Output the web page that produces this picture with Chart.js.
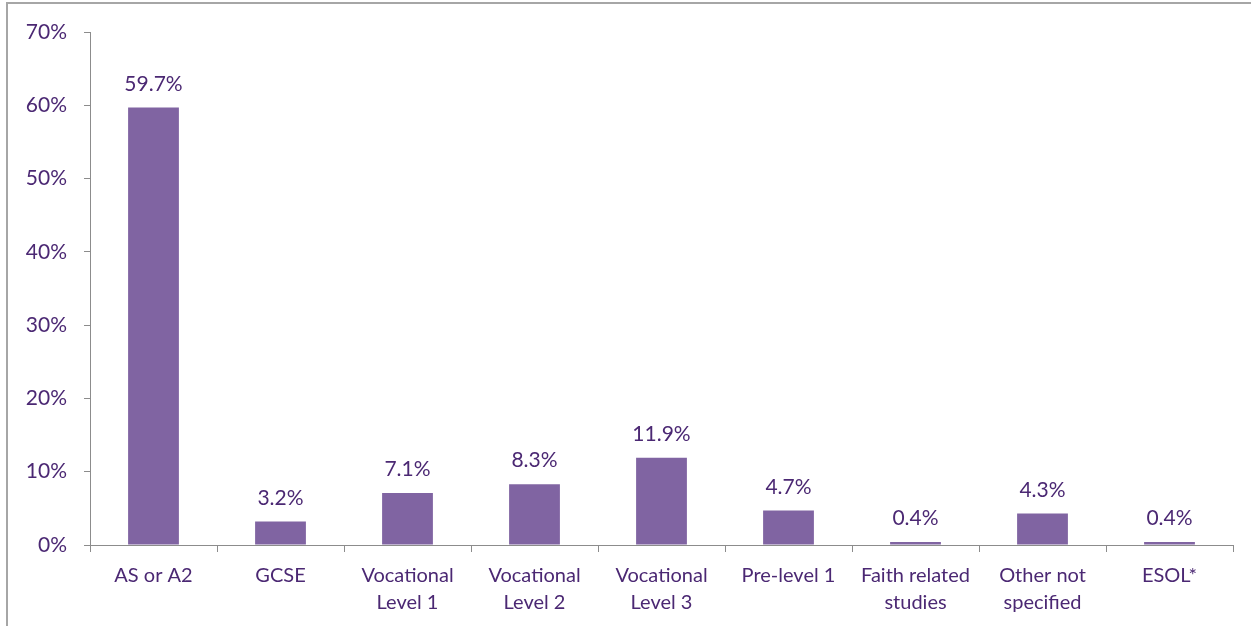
<!DOCTYPE html>
<html>
<head>
<meta charset="utf-8">
<script src="https://cdn.jsdelivr.net/npm/chart.js@4"></script>
<style>
  body { margin: 0; background: #fff; }
  #wrap { position: relative; width: 1251px; height: 626px; }
  #frame { position: absolute; left: 6px; top: 2px; right: 0; bottom: 0;
           border-top: 2px solid #a6a6a6; border-left: 2px solid #a6a6a6; }
  canvas { position: absolute; left: 0; top: 0; }
</style>
</head>
<body>
<div id="wrap">
  <div id="frame"></div>
  <canvas id="chart" width="1251" height="626"></canvas>
</div>
<script>
const categories = [
  "AS or A2", "GCSE", ["Vocational", "Level 1"], ["Vocational", "Level 2"],
  ["Vocational", "Level 3"], "Pre-level 1", ["Faith related", "studies"],
  ["Other not", "specified"], "ESOL*"
];
const shares = [59.7, 3.2, 7.1, 8.3, 11.9, 4.7, 0.4, 4.3, 0.4];
const yTicks = [0, 10, 20, 30, 40, 50, 60, 70];

const textColor = "#4b2873";
const fontFamily = "Lato, 'Open Sans', sans-serif";

// value labels above each bar
const valueLabels = {
  id: "valueLabels",
  afterDatasetsDraw(chart) {
    const ctx = chart.ctx;
    const meta = chart.getDatasetMeta(0);
    ctx.save();
    ctx.font = "21px " + fontFamily;
    ctx.fillStyle = textColor;
    ctx.textAlign = "center";
    ctx.textBaseline = "bottom";
    meta.data.forEach((bar, i) => {
      ctx.fillText(shares[i].toFixed(1) + "%", bar.x, bar.y - 13);
    });
    ctx.restore();
  }
};

new Chart(document.getElementById("chart").getContext("2d"), {
  type: "bar",
  data: {
    labels: categories,
    datasets: [{
      data: shares,
      backgroundColor: "#8064a2",
      categoryPercentage: 1,
      barPercentage: 0.4
    }]
  },
  options: {
    responsive: false,
    animation: false,
    layout: { padding: { top: 32, right: 18, left: 0, bottom: 0 } },
    plugins: { legend: { display: false }, tooltip: { enabled: false } },
    scales: {
      x: {
        grid: { offset: true, drawOnChartArea: false, tickLength: 7, color: "#8c8c8c" },
        border: { color: "#8c8c8c", width: 1 },
        ticks: {
          color: textColor, font: { size: 20, family: fontFamily, lineHeight: 1.35 },
          padding: 10, maxRotation: 0, autoSkip: false
        },
        afterFit(scale) { scale.height = 626 - 545; }
      },
      y: {
        min: 0, max: 70,
        afterBuildTicks(scale) { scale.ticks = yTicks.map(v => ({ value: v })); },
        grid: { drawOnChartArea: false, tickLength: 6, color: "#8c8c8c" },
        border: { color: "#8c8c8c", width: 1 },
        ticks: {
          color: textColor, font: { size: 21, family: fontFamily }, padding: 17,
          callback: v => v + "%"
        },
        afterFit(scale) { scale.width = 90; }
      }
    }
  },
  plugins: [valueLabels]
});
</script>
</body>
</html>
